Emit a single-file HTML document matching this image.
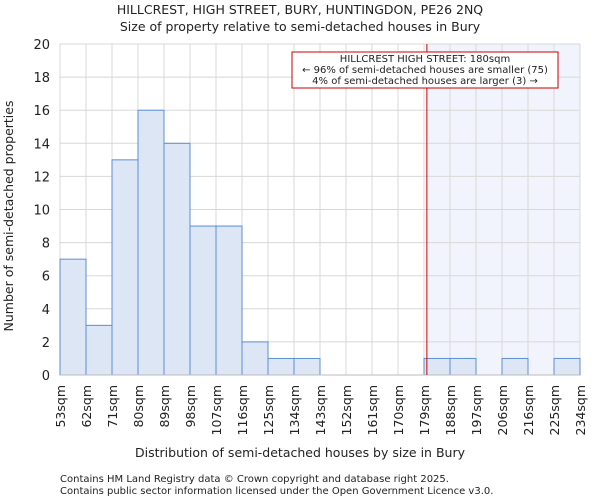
<!DOCTYPE html>
<html><head><meta charset="utf-8"><style>
body{margin:0;background:#fff;font-family:"DejaVu Sans","Liberation Sans",sans-serif;}
svg text{font-family:"DejaVu Sans","Liberation Sans",sans-serif;fill:#222;}
</style></head><body>
<svg id="chart" width="600" height="500" xmlns="http://www.w3.org/2000/svg">
<text x="300" y="14" text-anchor="middle" font-size="12.5">HILLCREST, HIGH STREET, BURY, HUNTINGDON, PE26 2NQ</text>
<text x="300" y="31" text-anchor="middle" font-size="12.5">Size of property relative to semi-detached houses in Bury</text>
<g id="plot"></g>
<text x="300" y="457" text-anchor="middle" font-size="12.5">Distribution of semi-detached houses by size in Bury</text>
<text transform="translate(13,216) rotate(-90)" text-anchor="middle" font-size="12.5">Number of semi-detached properties</text>
<text x="60" y="482" font-size="10">Contains HM Land Registry data © Crown copyright and database right 2025.</text>
<text x="60" y="494" font-size="10">Contains public sector information licensed under the Open Government Licence v3.0.</text>
</svg>
<script>
const binLabels=["53sqm","62sqm","71sqm","80sqm","89sqm","98sqm","107sqm","116sqm","125sqm","134sqm","143sqm","152sqm","161sqm","170sqm","179sqm","188sqm","197sqm","206sqm","216sqm","225sqm","234sqm"];
const counts=[7,3,13,16,14,9,9,2,1,1,0,0,0,0,1,1,0,1,0,1];
const yTicks=[0,2,4,6,8,10,12,14,16,18,20];
const propertyBinPos=14.11;
const NS="http://www.w3.org/2000/svg";
const x0=60,x1=580,yTop=44,yBot=375,yMax=20;
const bw=(x1-x0)/counts.length;
const xs=i=>x0+i*bw;
const ys=v=>yBot-(v/yMax)*(yBot-yTop);
const g=document.getElementById('plot');
function mk(t,a){const e=document.createElementNS(NS,t);for(const k in a)e.setAttribute(k,a[k]);g.appendChild(e);return e;}
const px=xs(propertyBinPos);
let sh=mk('rect',{x:px,y:yTop,width:x1-px,height:yBot-yTop,fill:'#f1f4fc'});


yTicks.forEach(t=>{
 let l=mk('line',{x1:x0,x2:x1,y1:ys(t),y2:ys(t),stroke:'#d8d8d8'});
 
 
 let tx=mk('text',{x:x0-10,y:ys(t)+5,'text-anchor':'end','font-size':'13'});
 tx.textContent=t;
 
 
});
binLabels.forEach((b,i)=>{
 let l=mk('line',{x1:xs(i),x2:xs(i),y1:yTop,y2:yBot,stroke:'#d8d8d8'});
 
 
 let tx=mk('text',{transform:`translate(${xs(i)+5},${yBot+10}) rotate(-90)`,'text-anchor':'end','font-size':'12.5'});
 tx.textContent=b;
 
 
});
counts.forEach((c,i)=>{
 if(c<=0)return;
 let r=mk('rect',{x:xs(i),y:ys(c),width:bw,height:yBot-ys(c),fill:'#dce6f4',stroke:'#5b8fd6','stroke-width':'1'});
 
 
});
let ax=mk('line',{x1:x0,x2:x1,y1:yBot,y2:yBot,stroke:'#bbb'});


let rl=mk('line',{x1:px,x2:px,y1:yTop,y2:yBot,stroke:'#cc0000','stroke-width':'1'});


let box=mk('rect',{x:292,y:52,width:266,height:36,fill:'#fff',stroke:'#cc0000','stroke-width':'1'});


[["HILLCREST HIGH STREET: 180sqm",62],["← 96% of semi-detached houses are smaller (75)",73],["4% of semi-detached houses are larger (3) →",84]].forEach(([s,y])=>{
 let t=mk('text',{x:425,y:y,'text-anchor':'middle','font-size':'10'});
 t.textContent=s;
 
 
});
</script>
</body></html>
